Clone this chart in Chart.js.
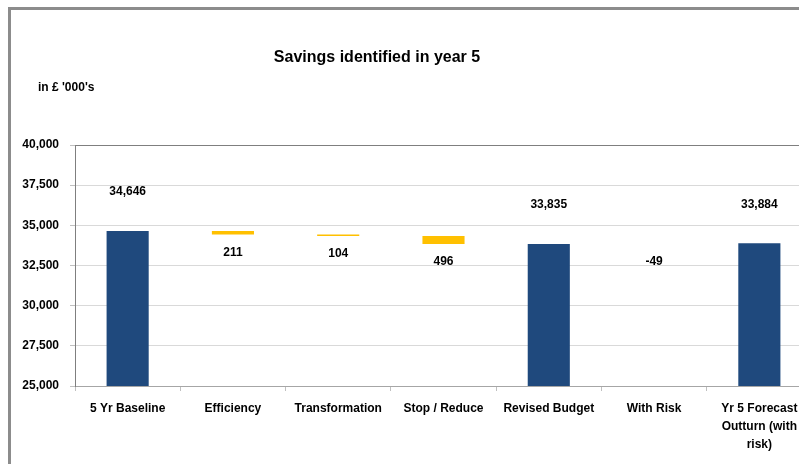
<!DOCTYPE html>
<html>
<head>
<meta charset="utf-8">
<script src="https://cdn.jsdelivr.net/npm/chart.js@4"></script>
<style>
	html, body { margin: 0; padding: 0; background: #fff; overflow: hidden; width: 799px; height: 464px; }
	#frame { position: absolute; left: 8px; top: 7px; width: 1000px; height: 1000px; border: 3px solid #8c8c8c; }
	#chart { position: absolute; left: 0; top: 0; }
</style>
</head>
<body>
<div id="frame"></div>
<canvas id="chart" width="812" height="464"></canvas>
<script>
// year 5 savings, £ '000s
var categories = ['5 Yr Baseline', 'Efficiency', 'Transformation', 'Stop / Reduce', 'Revised Budget', 'With Risk', ['Yr 5 Forecast', 'Outturn (with', 'risk)']];
var kinds = ['total', 'saving', 'saving', 'saving', 'total', 'risk', 'total'];
var values = [34646, 211, 104, 496, 33835, -49, 33884];
var yMin = 25000, yMax = 40000, yStep = 2500;

var navy = '#1f497d';
var gold = '#ffc000';

function fmt(n) {
	return String(n).replace(/\B(?=(\d{3})+(?!\d))/g, ',');
}

// build floating bars: totals start from 0, savings/risk hang off the running level
var bars = [];
var colors = [];
var level = 0;
for (var i = 0; i < values.length; i++) {
	if (kinds[i] == 'total') {
		level = values[i];
		bars.push([0, values[i]]);
		colors.push(navy);
	} else {
		var next = level - values[i];
		bars.push([level, next]);
		colors.push(kinds[i] == 'saving' ? gold : 'rgba(0,0,0,0)');
		level = next;
	}
}

var textPlugin = {
	id: 'texts',
	afterDatasetsDraw(chart) {
		var ctx = chart.ctx;
		ctx.save();
		ctx.fillStyle = '#000';
		ctx.textAlign = 'center';
		ctx.textBaseline = 'middle';

		ctx.font = 'bold 16px "Liberation Sans", Arial, sans-serif';
		ctx.fillText('Savings identified in year 5', 377, 58);

		ctx.font = 'bold 12px "Liberation Sans", Arial, sans-serif';
		ctx.textAlign = 'left';
		ctx.fillText("in £ '000's", 38, 88);

		ctx.textAlign = 'center';
		var meta = chart.getDatasetMeta(0);
		meta.data.forEach(function(bar, i) {
			var top = Math.min(bar.y, bar.base);
			var bottom = Math.max(bar.y, bar.base);
			if (kinds[i] == 'total') {
				ctx.fillText(fmt(values[i]), bar.x, top - 39);
			} else {
				ctx.fillText(String(values[i]), bar.x, bottom + 18);
			}
		});
		ctx.restore();
	}
};

var ctx = document.getElementById('chart').getContext('2d');
var myChart = new Chart(ctx, {
	type: 'bar',
	data: {
		labels: categories,
		datasets: [{
			data: bars,
			backgroundColor: colors,
			borderWidth: 0,
			barPercentage: 0.4,
			categoryPercentage: 1
		}]
	},
	options: {
		responsive: false,
		animation: false,
		layout: { padding: { top: 145, right: 0, left: 0, bottom: 0 } },
		plugins: {
			legend: { display: false },
			tooltip: { enabled: false }
		},
		scales: {
			x: {
				afterFit: function(scale) { scale.height = 78; },
				grid: {
					offset: true,
					drawOnChartArea: false,
					tickLength: 5,
					tickColor: '#c0c0c0'
				},
				border: { color: '#a6a6a6' },
				ticks: {
					color: '#000',
					padding: 9,
					maxRotation: 0,
					autoSkip: false,
					font: { family: '"Liberation Sans", Arial, sans-serif', size: 12, weight: 'bold', lineHeight: 1.5 }
				}
			},
			y: {
				min: yMin,
				max: yMax,
				afterFit: function(scale) { scale.width = 75; },
				grid: {
					color: function(c) { return c.tick && c.tick.value == yMax ? '#7f7f7f' : '#d9d9d9'; },
					tickLength: 5,
					tickColor: '#c0c0c0'
				},
				border: { color: '#7f7f7f' },
				ticks: {
					stepSize: yStep,
					color: '#000',
					padding: 11,
					callback: function(v) { return fmt(v); },
					font: { family: '"Liberation Sans", Arial, sans-serif', size: 12, weight: 'bold' }
				}
			}
		}
	},
	plugins: [textPlugin]
});
</script>
</body>
</html>
